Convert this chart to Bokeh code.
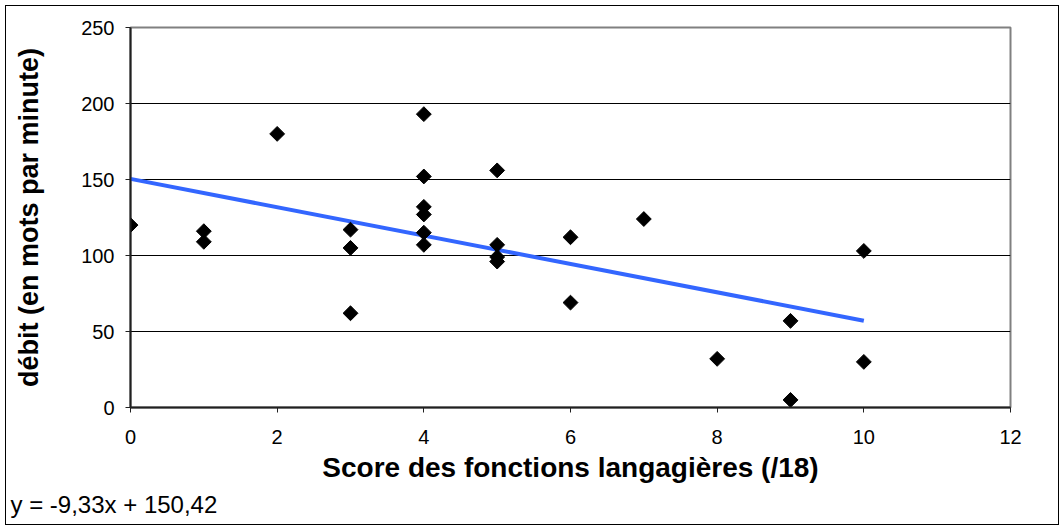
import numpy as np
from bokeh.plotting import figure
from bokeh.models import Title, FixedTicker, Range1d
from bokeh.embed import file_html
from bokeh.resources import INLINE

# data
score = [0, 1, 1, 2, 3, 3, 3, 4, 4, 4, 4, 4, 4, 5, 5, 5, 5, 6, 6, 7, 8, 9, 9, 10, 10]
debit = [120, 116, 109, 180, 117, 105, 62, 193, 152, 132, 127, 115, 107,
         156, 107, 99, 96, 112, 69, 124, 32, 57, 5, 103, 30]
trend_x = [0, 10]
trend_y = [150.42, 57.12]
x_ticks = [0, 2, 4, 6, 8, 10, 12]
y_ticks = [0, 50, 100, 150, 200, 250]
equation = "y = -9,33x + 150,42"

FONT = "Liberation Sans"

p = figure(width=1054, height=520, output_backend="svg", toolbar_location=None,
           x_range=Range1d(0, 12), y_range=Range1d(0, 250),
           min_border_left=124, min_border_right=50, min_border_top=21, min_border_bottom=119)
p.styles = {"border": "1px solid black", "margin-left": "5px", "margin-top": "5px"}

p.outline_line_color = "#808080"
p.outline_line_width = 2

p.xaxis.ticker = FixedTicker(ticks=x_ticks)
p.yaxis.ticker = FixedTicker(ticks=y_ticks)
p.xgrid.grid_line_color = None
p.ygrid.grid_line_color = "black"
p.ygrid.grid_line_width = 1

for ax in (p.xaxis[0], p.yaxis[0]):
    ax.axis_line_color = "#202020"
    ax.axis_line_width = 2
    ax.major_tick_line_color = "#202020"
    ax.major_tick_line_width = 1
    ax.major_tick_in = 0
    ax.major_tick_out = 5
    ax.minor_tick_line_color = None
    ax.major_label_text_font = FONT
    ax.major_label_text_font_size = "20px"
    ax.major_label_text_color = "black"
    ax.axis_label_text_font = FONT
    ax.axis_label_text_font_size = "28px"
    ax.axis_label_text_font_style = "bold"
    ax.axis_label_text_color = "black"

p.xaxis.axis_label = "Score des fonctions langagières (/18)"
p.yaxis.axis_label = "débit (en mots par minute)"
p.yaxis.axis_label_text_font_size = "27px"
p.xaxis.major_label_standoff = 17
p.xaxis.axis_label_standoff = 5
p.yaxis.major_label_standoff = 11
p.yaxis.axis_label_standoff = 34

p.line(trend_x, trend_y, line_color="#3366FF", line_width=4)
p.scatter(score, debit, marker="square", size=10.5, angle=np.pi / 4,
          fill_color="black", line_color="black")

eq = Title(text=equation, align="left", offset=-120, standoff=6,
           text_font=FONT, text_font_size="24px", text_font_style="normal",
           text_color="black")
p.add_layout(eq, "below")

open("out.html", "w").write(file_html(p, INLINE))
